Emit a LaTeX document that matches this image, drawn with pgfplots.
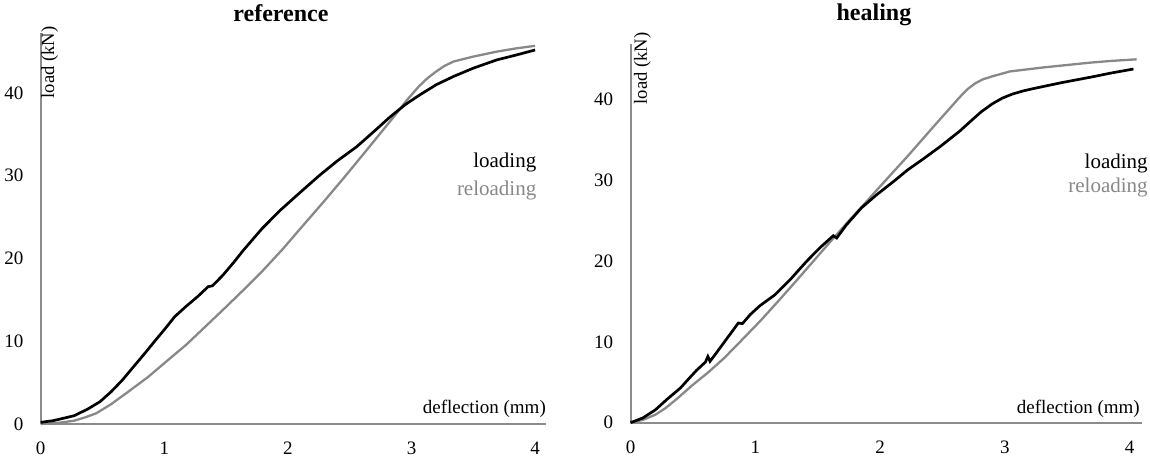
\documentclass[border=0pt]{standalone}
\usepackage{fontspec}
\setmainfont{Liberation Serif}
\usepackage{pgfplots}
\pgfplotsset{compat=1.18}

\definecolor{linegray}{RGB}{136,136,136}
\definecolor{axisgray}{RGB}{140,140,140}

% loading / reloading curves
\pgfplotstableread{
x y
0 0.2
0.10 0.4
0.20 0.75
0.27 1.0
0.38 1.8
0.48 2.7
0.57 3.9
0.66 5.3
0.75 6.9
0.84 8.5
0.93 10.15
1.00 11.4
1.084 12.97
1.175 14.2
1.27 15.4
1.355 16.6
1.39 16.7
1.475 18.0
1.56 19.5
1.64 21.0
1.79 23.6
1.936 25.8
2.10 28.0
2.26 30.1
2.40 31.8
2.556 33.5
2.70 35.4
2.826 37.1
2.95 38.6
3.07 39.8
3.20 41.0
3.34 42.0
3.50 43.0
3.69 44.0
3.85 44.6
4.00 45.2
}\refload
\pgfplotstableread{
x y
0 0
0.15 0.15
0.27 0.4
0.36 0.8
0.45 1.3
0.57 2.4
0.69 3.7
0.78 4.7
0.87 5.7
1.02 7.6
1.175 9.55
1.32 11.6
1.475 13.8
1.62 15.9
1.776 18.2
1.956 21.1
2.10 23.6
2.286 26.8
2.45 29.7
2.61 32.6
2.73 34.8
2.85 37.0
2.96 39.1
3.06 40.8
3.13 41.8
3.20 42.6
3.27 43.3
3.34 43.8
3.50 44.4
3.69 45.0
3.85 45.4
4.00 45.7
}\refreload
\pgfplotstableread{
x y
0 0
0.10 0.6
0.20 1.6
0.295 2.93
0.40 4.3
0.47 5.5
0.53 6.5
0.60 7.5
0.62 8.2
0.637 7.6
0.70 8.9
0.80 11.0
0.864 12.35
0.896 12.26
0.96 13.4
1.038 14.5
1.158 15.85
1.29 17.9
1.41 19.97
1.52 21.7
1.625 23.16
1.652 22.87
1.73 24.5
1.85 26.6
1.97 28.2
2.11 29.9
2.22 31.3
2.34 32.6
2.49 34.3
2.637 36.1
2.73 37.4
2.81 38.5
2.90 39.5
2.98 40.2
3.06 40.7
3.15 41.1
3.22 41.35
3.45 42.1
3.69 42.8
3.85 43.3
4.03 43.8
}\healload
\pgfplotstableread{
x y
0 0
0.10 0.35
0.20 1.0
0.28 1.8
0.37 2.93
0.50 4.7
0.62 6.2
0.75 8.0
0.877 10.0
1.04 12.6
1.198 15.3
1.33 17.6
1.465 20.0
1.60 22.4
1.75 25.0
1.88 27.2
2.02 29.6
2.226 33.1
2.43 36.7
2.637 40.3
2.70 41.3
2.76 42.0
2.82 42.5
2.90 42.9
3.04 43.5
3.31 44.0
3.50 44.3
3.69 44.6
3.85 44.8
4.055 45.0
}\healreload

\pgfplotsset{
  loadaxis/.style={
    anchor=origin,
    ymin=0, xmin=0,
    axis lines*=left,
    axis line style={draw=axisgray, line width=1pt},
    xtick={0,1,2,3,4}, ytick={0,10,20,30,40},
    major tick length=0pt,
    tick label style={font=\fontsize{9.5}{11}\selectfont},
    /pgf/number format/assume math mode=true,
    xticklabel style={yshift=-5.4pt},
    yticklabel style={xshift=-5.1pt},
    clip=false,
  },
  loadcurve/.style={black, line width=1.35pt, no marks},
  reloadcurve/.style={linegray, line width=1.15pt, no marks},
}

\begin{document}
\begin{tikzpicture}
\useasboundingbox (-20.35pt,-16.5pt) rectangle (554.65pt,212pt);

\begin{axis}[loadaxis, at={(0pt,0pt)},
    x=61.8pt, y=4.1375pt, xmax=4.09, ymax=47.2]
  \addplot[reloadcurve] table {\refreload};
  \addplot[loadcurve] table {\refload};
  \node[anchor=base, font=\bfseries\fontsize{12}{14}\selectfont]
    at (axis cs:1.944,48.58) {reference};
  \node[rotate=90, anchor=north east, inner sep=0pt, xshift=3.65pt,
    font=\fontsize{9.3}{11}\selectfont] at (rel axis cs:0,1) {load (kN)};
  \node[anchor=base east, inner sep=0pt, yshift=5.35pt,
    font=\fontsize{9.5}{11}\selectfont] at (rel axis cs:1,0) {deflection (mm)};
  \node[anchor=base east, inner sep=0pt, font=\fontsize{10.5}{12}\selectfont]
    at (axis cs:4.013,30.94) {loading};
  \node[anchor=base east, inner sep=0pt, text=linegray, font=\fontsize{10.5}{12}\selectfont]
    at (axis cs:4.013,27.67) {reloading};
\end{axis}

\begin{axis}[loadaxis, at={(294.9pt,0.65pt)},
    x=62.4pt, y=4.0375pt, xmax=4.1, ymax=46.9]
  \addplot[reloadcurve] table {\healreload};
  \addplot[loadcurve] table {\healload};
  \node[anchor=base, font=\bfseries\fontsize{12}{14}\selectfont]
    at (axis cs:1.951,49.78) {healing};
  \node[rotate=90, anchor=north east, inner sep=0pt, xshift=6pt, yshift=-1.5pt,
    font=\fontsize{9.3}{11}\selectfont] at (rel axis cs:0,1) {load (kN)};
  \node[anchor=base east, inner sep=0pt, yshift=4.7pt, xshift=-1pt,
    font=\fontsize{9.5}{11}\selectfont] at (rel axis cs:1,0) {deflection (mm)};
  \node[anchor=base east, inner sep=0pt, font=\fontsize{10.5}{12}\selectfont]
    at (axis cs:4.147,31.54) {loading};
  \node[anchor=base east, inner sep=0pt, text=linegray, font=\fontsize{10.5}{12}\selectfont]
    at (axis cs:4.147,28.45) {reloading};
\end{axis}
\end{tikzpicture}
\end{document}
